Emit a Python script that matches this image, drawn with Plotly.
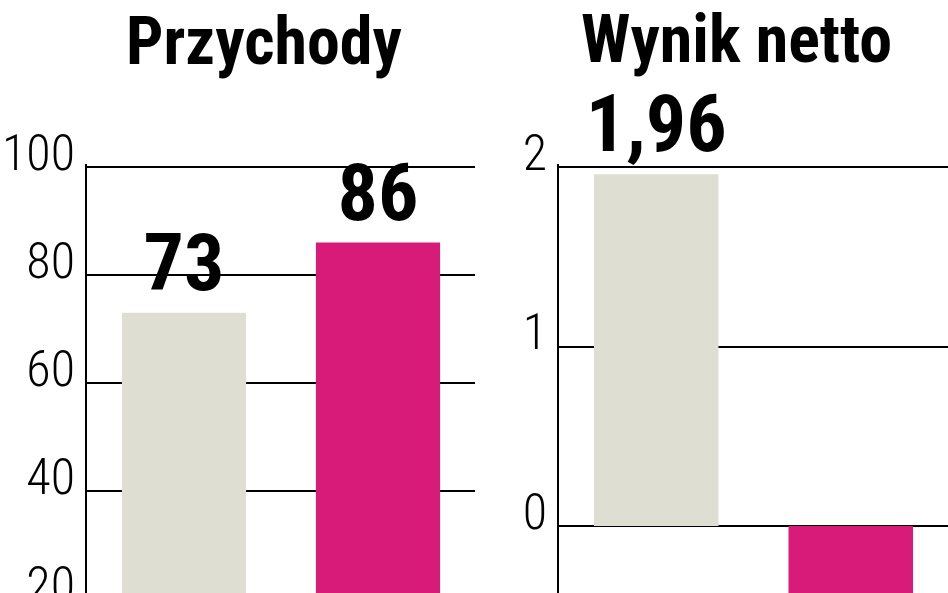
import plotly.graph_objects as go

# ---- data ----
categories = ["A", "B"]
przychody = [73, 86]
wynik_netto = [1.96, -0.6]
bar_colors = ["#DEDED2", "#D81B78"]
titles = ["Przychody", "Wynik netto"]
left_ticks = [20, 40, 60, 80, 100]
right_ticks = [0, 1, 2]


def pl(v):
    return f"{v:g}".replace(".", ",")


W, VIEW_H = 948, 593
H = 630  # figure continues below the visible window, as in the cropped original
FONT = "Roboto Condensed, DejaVu Sans Condensed, sans-serif"

fig = go.Figure()
fig.add_trace(go.Bar(
    x=categories, y=przychody, marker=dict(color=bar_colors, line=dict(width=0)),
    text=[pl(v) for v in przychody], textposition="outside", cliponaxis=False,
    constraintext="none",
    textfont=dict(family=FONT, size=80, color="black", weight="bold"),
    xaxis="x", yaxis="y", showlegend=False, hoverinfo="skip"))
fig.add_trace(go.Bar(
    x=categories, y=wynik_netto, marker=dict(color=bar_colors, line=dict(width=0)),
    text=[pl(v) for v in wynik_netto], textposition="outside", cliponaxis=False,
    constraintext="none",
    textfont=dict(family=FONT, size=80, color="black", weight="bold"),
    xaxis="x2", yaxis="y2", showlegend=False, hoverinfo="skip"))

top_px = 164
ydom = [0, 1 - top_px / H]
plot_h = H - top_px
# pixel scales: 5.4 px per unit (left), 179.5 px per unit (right)
left_top = 100 + 3 / 5.4
right_top = 2 + 3 / 179.5

axis_common = dict(
    showgrid=True, gridcolor="black", gridwidth=2,
    showline=True, linecolor="black", linewidth=2,
    ticks="", tickfont=dict(family=FONT, size=50, color="black", weight=300),
    ticklabelstandoff=0, ticklabelshift=-15, zeroline=False, automargin=False,
)

fig.update_layout(
    width=W, height=H,
    margin=dict(l=0, r=0, t=0, b=0, autoexpand=False),
    paper_bgcolor="white", plot_bgcolor="white",
    bargap=0.36,
    xaxis=dict(domain=[87 / W, 475 / W], showticklabels=False, showgrid=False,
               showline=False, zeroline=False, anchor="y", automargin=False),
    xaxis2=dict(domain=[559 / W, 1.0], showticklabels=False, showgrid=False,
                showline=False, zeroline=False, anchor="y2", automargin=False),
    yaxis=dict(domain=ydom, range=[left_top - plot_h / 5.4, left_top],
               tickvals=left_ticks, anchor="x", **axis_common),
    yaxis2=dict(domain=ydom, range=[right_top - plot_h / 179.5, right_top],
                tickvals=right_ticks, anchor="x2", **axis_common),
    annotations=[
        dict(text=titles[0], x=264 / W, y=1 - 82 / H, xref="paper", yref="paper",
             xanchor="center", yanchor="bottom", showarrow=False,
             font=dict(family=FONT, size=66, color="black", weight="bold")),
        dict(text=titles[1], x=736 / W, y=1 - 80 / H, xref="paper", yref="paper",
             xanchor="center", yanchor="bottom", showarrow=False,
             font=dict(family=FONT, size=66, color="black", weight="bold")),
    ],
)

fig.write_html(
    "out.html", config={"displayModeBar": False},
    post_script=(
        "document.documentElement.style.cssText='margin:0;height:%dpx;overflow:hidden';"
        "document.body.style.cssText='margin:0;height:%dpx;overflow:hidden';" % (VIEW_H, VIEW_H)
    ),
)
